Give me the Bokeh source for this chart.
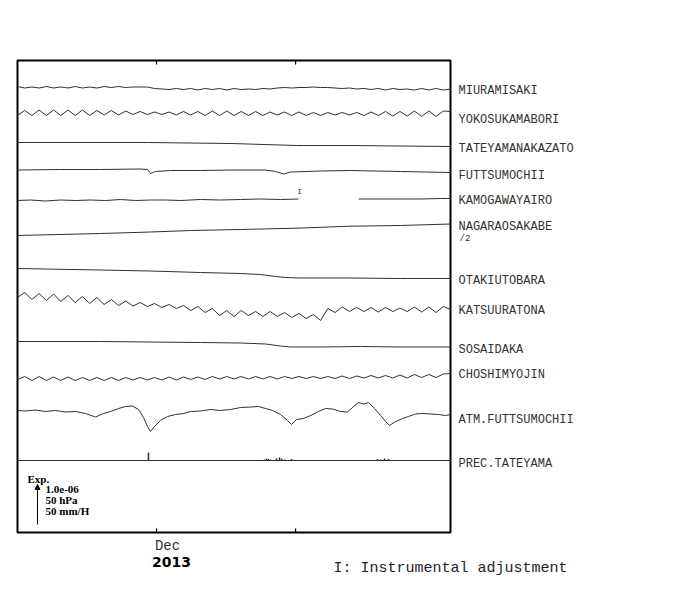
import numpy as np
from bokeh.plotting import figure
from bokeh.models import Range1d, Arrow, NormalHead
from bokeh.core.properties import value
from bokeh.embed import file_html
from bokeh.resources import INLINE

# ---------------- data (days since 2013-11-17, values in chart units) ----------------
DAYS = 43.6
t_grid = np.linspace(0, DAYS, 61)

miura = [1, -0.5, 0.5, -0.5, 1, -0.5, 0.5, -0.5, 1, -0.5, 0.5, -0.5, 1, 0, 1, 0, 0.5, 0.5, 0.5,
         -1, -1.5, -2, -1, -2, -1, -2.5, -1, -2, -1, -2.5, -1, -2, -1.5, -2, -1, -1.5, -0.5,
         0, -0.5, 0, 0, 0.5, 0, 0, -0.5, -1,
         -0.5, -1.5, -1, -2, -1, -2.5, -1, -2, -1.5, -2.5, -1, -2.5, -1, -2.5, -1.5]

yokosuka_y = [115, 110, 115, 109.5, 115, 109.5, 115, 109.5, 115, 109.5, 115, 110, 114.5, 110, 114.5, 110.5,
              114, 111, 114, 111.5, 114, 111.5, 114.5, 111, 114.5, 111, 115, 110.5, 115, 110.5, 115, 111, 115, 111, 115, 111.5, 114.5,
              111.5, 115, 111.5, 115, 112, 115, 112, 114.5, 112, 114.5, 112, 115, 111.5, 115, 111, 115.5, 111, 115.5, 110.5, 116, 110.5, 116, 110.5, 111]
yokosuka = [113 - v for v in yokosuka_y]

tateyama_t = [0, 13.2, 21.5, 28.1, 33.5, 43.6]
tateyama = [0, 0, -1, -3, -3, -4]

futtsu_t = [0, 4.33, 8.36, 12.39, 13.09, 13.39, 13.9, 15.41, 18.43, 21.45, 24.97, 25.98, 26.79, 27.49, 30.51, 33.53, 38.57, 43.6]
futtsu = [-0.5, 0, 0, 0.5, 0, -4, -2, -1, -1, -0.5, -0.5, -2, -4.5, -2.5, -1.5, -1, -2, -3]

kamo_t = [0, 1.31, 2.82, 4.33, 5.84, 7.35, 8.86, 10.37, 11.88, 13.39, 14.9, 16.41, 18.43, 20.44, 22.46, 24.47, 26.49, 28.3,
          np.nan, 34.34, 36.56, 38.57, 40.58, 42.6, 43.6]
kamo = [0, 0.5, -0.5, 0.5, 0, 0.5, 0, 1, 0, 0.5, 0.5, 0, 1, 0.5, 1, 1.5, 1, 1.5,
        np.nan, 1.5, 1.5, 1.5, 1.5, 2, 2]
kamo_adjust_t = 28.4

nagara_t = [0, 8.36, 13.39, 17.42, 22.46, 28.1, 33.53, 38.57, 43.6]
nagara = [0, 2, 3.5, 5, 6, 7.3, 9.3, 10, 11.5]

otaki_t = [0, 8.36, 13.39, 18.43, 22.46, 24.47, 25.98, 26.99, 28.5, 33.53, 38.57, 43.6]
otaki = [0, -1.5, -2.5, -4, -5, -6, -8, -9, -9.5, -9.5, -10, -10]

katsuura_y = [297, 292, 299, 293, 300, 293.5, 301, 295, 302, 296, 303, 297, 304, 299, 305, 300.5, 305.5, 302, 306, 303,
              307, 304, 308, 305, 310, 306, 312, 308, 315, 310, 316, 310, 315, 311, 316, 311, 316, 312, 317, 313,
              318, 314, 320, 308, 312, 306.5, 311, 307, 311, 307, 311.5, 307, 311, 307.5, 311, 306.5, 311.5, 306.5, 312, 306, 309]
katsuura = [297 - v for v in katsuura_y]

sosai_t = [0, 8.36, 13.19, 18.43, 22.46, 24.97, 26.49, 27.49, 30.51, 34.54, 38.57, 43.6]
sosai = [0, 0, -0.5, -1, -1.5, -2.5, -4.5, -5.5, -5.5, -5, -5.5, -5.5]

choshi_y = [379, 376, 380, 376, 380, 376.5, 380, 376.5, 380, 377, 380, 377, 380, 377, 380, 377, 379.5, 377, 379.5, 377, 379.5,
            376.5, 379.5, 376.5, 379, 376.5, 379, 376, 378.5, 376, 378.5, 376, 378.5, 376, 378.5, 376, 378.5, 376, 378, 376, 378,
            376, 378, 376, 378, 375.5, 378, 375.5, 377.5, 375, 377.5, 375, 377.5, 374.5, 377.5, 374, 377, 374, 377, 373.5, 373]
choshi = [378 - v for v in choshi_y]

atm_t = [0, 0.81, 1.81, 2.82, 3.83, 4.83, 5.84, 6.85, 7.85, 8.66, 9.37, 10.17, 10.88, 11.58, 12.19, 12.69, 13.09, 13.39,
         13.8, 14.4, 15.11, 15.91, 16.72, 17.42, 18.43, 19.44, 20.44, 21.45, 22.46, 23.46, 24.27, 24.97, 25.68, 26.49,
         27.19, 27.59, 28.1, 28.8, 29.51, 30.31, 31.02, 31.72, 32.53, 33.23, 33.84, 34.34, 34.84, 35.35, 35.95, 36.56,
         37.06, 37.46, 38.07, 38.77, 39.38, 40.08, 40.79, 41.59, 42.4, 43.1, 43.6]
atm_y = [410, 410.5, 409.5, 411, 410, 411.5, 411, 413, 416.5, 413, 411, 408, 406, 405.5, 409, 417, 426, 431,
         426, 420, 416, 414, 413, 411, 410.5, 409, 410, 409, 407, 406.5, 406, 408, 410, 414,
         420, 424, 419, 418, 415, 411, 408, 408.5, 411, 411.5, 406, 402, 403.5, 402, 408, 415,
         421, 425, 421, 418, 416, 413.5, 413, 413.5, 414, 415, 414]
atm = [410 - v for v in atm_y]

prec_t = [13.19, 24.87, 25.08, 25.28, 25.48, 26.08, 26.38, 26.59, 26.89, 27.59, 36.25, 36.56, 36.96, 37.36]
prec = [8, 1, 2, 1.5, 1, 2, 3, 2, 1, 1.5, 1.5, 1, 2, 1.5]

stations = ["MIURAMISAKI", "YOKOSUKAMABORI", "TATEYAMANAKAZATO", "FUTTSUMOCHII", "KAMOGAWAYAIRO",
            "NAGARAOSAKABE", "OTAKIUTOBARA", "KATSUURATONA", "SOSAIDAKA", "CHOSHIMYOJIN",
            "ATM.FUTTSUMOCHII", "PREC.TATEYAMA"]
tick_days = [14, 28]
tick_labels = ["Dec", ""]
year_label = "2013"
scale_texts = ["1.0e-06", "50 hPa", "50 mm/H"]

# ---------------- layout (screen px of the reference image) ----------------
W, HH = 700, 590
F_LEFT, F_RIGHT, F_TOP, F_BOTTOM = 17, 450, 60, 532
H = F_BOTTOM - F_TOP
PX_PER_DAY = (F_RIGHT - F_LEFT) / DAYS
base_px = [87, 113, 142, 169, 200, 235, 268, 297, 341, 378, 410, 460]
label_px = [90, 119, 148, 175, 200, 226, 280, 310, 349, 374, 419, 463]


def X(px):
    return (px - F_LEFT) / PX_PER_DAY


def Y(px):
    return F_BOTTOM - px


p = figure(width=W, height=HH, min_border=0,
           x_range=Range1d(X(0), X(W)), y_range=Range1d(Y(HH), Y(0)),
           x_axis_type=None, y_axis_type=None,
           toolbar_location=None, output_backend="svg",
           outline_line_color=None,
           background_fill_color="white", border_fill_color="white")

# frame box and inward ticks
p.quad(left=0, right=DAYS, bottom=0, top=H, fill_color=None, line_color="black", line_width=2)
tick_len = 4
p.segment(x0=tick_days, y0=[0] * 2, x1=tick_days, y1=[tick_len] * 2, line_color="black", line_width=1.2)
p.segment(x0=tick_days, y0=[H] * 2, x1=tick_days, y1=[H - tick_len] * 2, line_color="black", line_width=1.2)

LC = "#303030"
series = [
    (t_grid, miura), (t_grid, yokosuka), (tateyama_t, tateyama), (futtsu_t, futtsu),
    (kamo_t, kamo), (nagara_t, nagara), (otaki_t, otaki), (t_grid, katsuura),
    (sosai_t, sosai), (t_grid, choshi), (atm_t, atm),
]
for (tt, vv), b in zip(series, base_px[:11]):
    p.line(list(tt), [Y(b) + v for v in vv], line_color=LC, line_width=1)

# precipitation
pb = Y(base_px[11])
p.line([0, DAYS], [pb, pb], line_color=LC, line_width=1)
p.segment(x0=prec_t, y0=[pb] * len(prec_t), x1=prec_t, y1=[pb + v for v in prec],
          line_color=LC, line_width=1.5)

MONO = value("Liberation Mono")
SERIF = value("Liberation Serif")

# instrumental adjustment mark
p.text(x=[kamo_adjust_t], y=[Y(191)], text=["I"], text_font=MONO, text_font_size="8px",
       text_align="center", text_baseline="middle", text_color="#333")

# station labels
lx = X(458)
p.text(x=[lx] * len(stations), y=[Y(v) for v in label_px], text=stations, text_font=MONO,
       text_font_size="12px", text_align="left", text_baseline="middle", text_color="#333")
p.text(x=[X(459)], y=[Y(238)], text=["/2"], text_font=MONO, text_font_size="9px",
       text_align="left", text_baseline="middle", text_color="#333")

# time labels
p.text(x=[X(167)], y=[Y(545)], text=[tick_labels[0]], text_font=MONO, text_font_size="14px",
       text_align="center", text_baseline="middle", text_color="#333")
p.text(x=[X(171)], y=[Y(561)], text=[year_label], text_font=value("DejaVu Sans"), text_font_style="bold",
       text_font_size="14px", text_align="center", text_baseline="middle", text_color="black")

# scale block
p.add_layout(Arrow(x_start=X(37), y_start=Y(524), x_end=X(37), y_end=Y(484),
                   end=NormalHead(size=5, fill_color="black", line_color="black"),
                   line_color="black", line_width=1))
p.text(x=[X(27)], y=[Y(478)], text=["Exp."], text_font=SERIF, text_font_style="bold",
       text_font_size="11px", text_align="left", text_baseline="middle", text_color="black")
p.text(x=[X(45)] * 3, y=[Y(v) for v in (489, 499, 510)], text=scale_texts, text_font=SERIF,
       text_font_style="bold", text_font_size="11px", text_align="left", text_baseline="middle",
       text_color="black")

p.text(x=[X(333)], y=[Y(568)], text=["I: Instrumental adjustment"], text_font=MONO,
       text_font_size="15px", text_align="left", text_baseline="middle", text_color="#222")

open("out.html", "w").write(file_html(p, INLINE))
